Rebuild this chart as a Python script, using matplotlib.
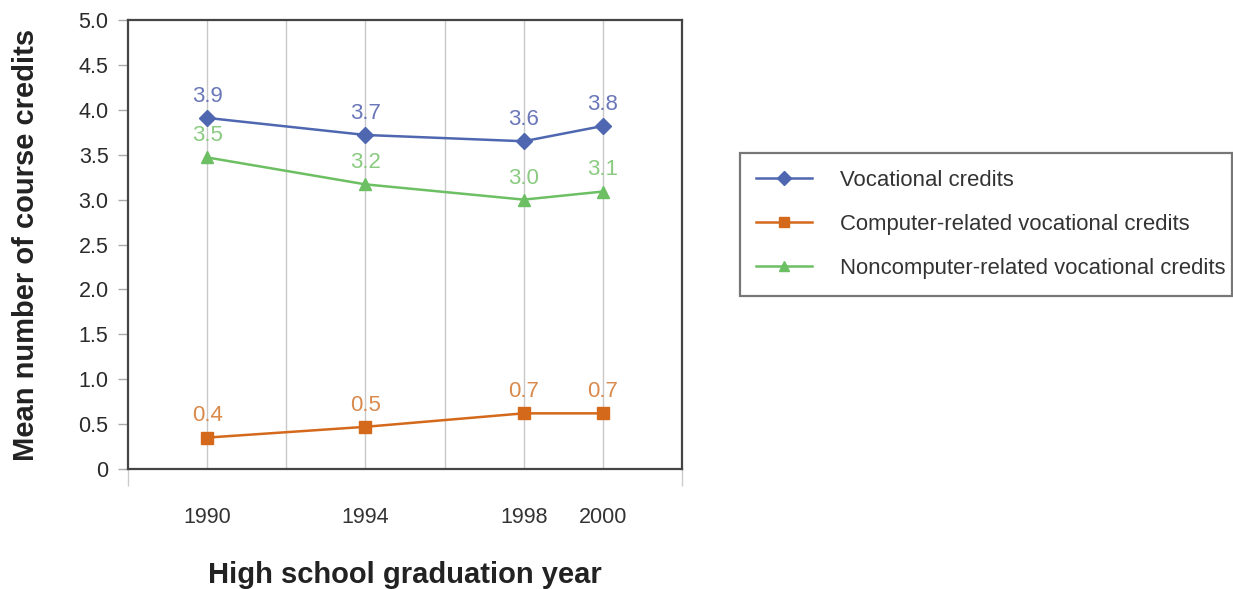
import matplotlib
matplotlib.use("Agg")
import matplotlib.pyplot as plt
from matplotlib.ticker import FixedLocator

plt.rcParams['font.family'] = ['Liberation Sans', 'DejaVu Sans']

years = [1990, 1994, 1998, 2000]
vocational = [3.91, 3.72, 3.65, 3.82]
computer = [0.35, 0.47, 0.62, 0.62]
noncomputer = [3.47, 3.17, 3.00, 3.09]
vocational_lbl = ["3.9", "3.7", "3.6", "3.8"]
computer_lbl = ["0.4", "0.5", "0.7", "0.7"]
noncomputer_lbl = ["3.5", "3.2", "3.0", "3.1"]
series_names = ["Vocational credits", "Computer-related vocational credits",
                "Noncomputer-related vocational credits"]
ytick_vals = [0, 0.5, 1.0, 1.5, 2.0, 2.5, 3.0, 3.5, 4.0, 4.5, 5.0]
ytick_lbls = ["0", "0.5", "1.0", "1.5", "2.0", "2.5", "3.0", "3.5", "4.0", "4.5", "5.0"]
grid_years = [1990, 1992, 1994, 1996, 1998, 2000]

fig = plt.figure(figsize=(12.33, 5.89), dpi=100)
ax = fig.add_axes([0.1038, 0.2037, 0.4493, 0.7623])

for gx in grid_years:
    ax.axvline(gx, color='#c8c8c8', lw=1.0, zorder=0)

styles = [
    (vocational, vocational_lbl, '#4f67b0', '#6a77b8', 'D', 8),
    (computer, computer_lbl, '#d4691c', '#d98a4c', 's', 8),
    (noncomputer, noncomputer_lbl, '#6cbf62', '#8acb81', '^', 9),
]
for (vals, lbls, c, tc, m, ms), name in zip(styles, series_names):
    ax.plot(years, vals, color=c, marker=m, ms=ms, lw=1.8, label=name, zorder=3)
    for x, y, t in zip(years, vals, lbls):
        ax.annotate(t, (x, y), xytext=(0, 8), textcoords='offset points',
                    ha='center', va='bottom', color=tc, fontsize=16,
                    family=['Liberation Sans Narrow', 'Liberation Sans'])

ax.set_xlim(1988, 2002)
ax.set_ylim(0, 5.0)
ax.set_yticks(ytick_vals)
ax.set_yticklabels(ytick_lbls, fontsize=15.5, color='#2a2a2a')
ax.set_xticks(years)
ax.set_xticklabels([str(y) for y in years], fontsize=15.5, color='#333333')
ax.xaxis.set_minor_locator(FixedLocator([1988, 2002]))
ax.tick_params(axis='x', which='major', length=0, pad=27)
ax.tick_params(axis='x', which='minor', length=12, color='#cccccc', width=1)
ax.tick_params(axis='y', length=7, color='#aaaaaa', width=1, pad=7)

for s in ax.spines.values():
    s.set_color('#444444')
    s.set_linewidth(1.6)

ax.set_ylabel("Mean number of course credits", fontsize=21, fontweight='bold',
              color='#222222', labelpad=28)
ax.set_xlabel("High school graduation year", fontsize=21, fontweight='bold',
              color='#222222', labelpad=24)

leg = fig.legend(loc='center left', bbox_to_anchor=(0.600, 0.4958, 0.399, 0.2462),
                 mode='expand', fontsize=15.9, frameon=True, fancybox=False,
                 handlelength=2.5, labelspacing=1.05, borderpad=0.75,
                 handletextpad=1.3, borderaxespad=0)
leg.get_frame().set_edgecolor('#555555')
leg.get_frame().set_linewidth(1.6)
for h in leg.legend_handles:
    h.set_markersize(7)
for t in leg.get_texts():
    t.set_color('#333333')

fig.savefig("out.png", dpi=100)
